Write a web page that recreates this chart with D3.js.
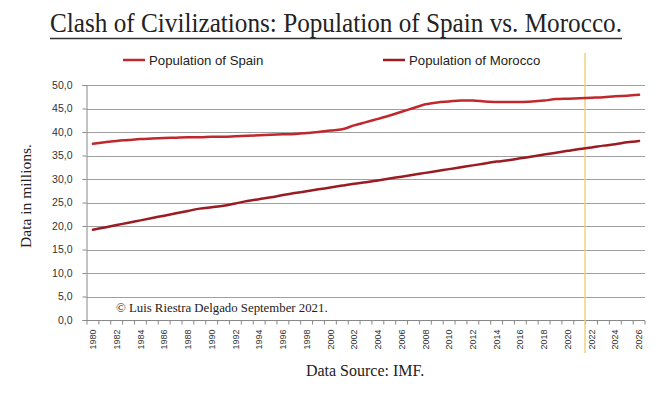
<!DOCTYPE html>
<html><head><meta charset="utf-8">
<script src="https://cdn.jsdelivr.net/npm/d3@7"></script>
<style>body{margin:0;background:#fff}svg{display:block}</style>
</head><body><svg id="c" width="672" height="394"></svg>
<script>
const years = d3.range(1980, 2027);
const spain = [37.5,37.8,38.1,38.3,38.5,38.6,38.7,38.8,38.9,38.9,39.0,39.0,39.1,39.2,39.3,39.4,39.5,39.6,39.8,40.0,40.3,40.6,41.4,42.1,42.8,43.5,44.3,45.1,45.9,46.3,46.5,46.7,46.7,46.5,46.4,46.4,46.4,46.5,46.7,47.0,47.1,47.2,47.3,47.4,47.6,47.7,47.9];
const morocco = [19.2,19.7,20.2,20.7,21.2,21.7,22.2,22.7,23.2,23.7,24.0,24.3,24.8,25.3,25.7,26.1,26.6,27.0,27.4,27.8,28.2,28.6,29.0,29.3,29.7,30.1,30.5,30.9,31.3,31.7,32.1,32.5,32.9,33.3,33.7,34.0,34.4,34.8,35.2,35.6,36.0,36.4,36.7,37.1,37.4,37.8,38.1];
const yTicks = [0,5,10,15,20,25,30,35,40,45,50];
const xTickYears = years.filter(y => y % 2 === 0);
const markerYear = 2021.45;
const seriesNames = ["Population of Spain", "Population of Morocco"];
const seriesColors = ["#c0282d", "#9a1c22"];

const svg = d3.select("#c");
const x = d3.scaleLinear().domain([1979.5, 2026.5]).range([87, 645]);
const y = d3.scaleLinear().domain([0, 50]).range([320, 85]);
const fmt = v => d3.format(".1f")(v).replace(".", ",");

// Title
svg.append("text").attr("x", 336).attr("y", 32).attr("text-anchor", "middle")
  .attr("font-family", "Liberation Serif, serif").attr("font-size", 27).attr("fill", "#222")
  .attr("textLength", 572).attr("lengthAdjust", "spacingAndGlyphs")
  .text("Clash of Civilizations: Population of Spain vs. Morocco.");
svg.append("line").attr("x1", 50).attr("x2", 622).attr("y1", 38.5).attr("y2", 38.5)
  .attr("stroke", "#333").attr("stroke-width", 1.3);

// Legend
const legendX = [123, 383];
seriesNames.forEach((n, i) => {
  svg.append("line").attr("x1", legendX[i]).attr("x2", legendX[i] + 22).attr("y1", 60).attr("y2", 60)
    .attr("stroke", seriesColors[i]).attr("stroke-width", 2.5);
  svg.append("text").attr("x", legendX[i] + 26).attr("y", 64.5)
    .attr("font-family", "Liberation Sans, Arial, sans-serif").attr("font-size", 13.2).attr("fill", "#222")
    .text(n);
});

// Gridlines
svg.append("g").selectAll("line").data(yTicks.filter(t => t > 0)).join("line")
  .attr("x1", 87).attr("x2", 645).attr("y1", d => Math.round(y(d)) + 0.5).attr("y2", d => Math.round(y(d)) + 0.5)
  .attr("stroke", "#a0a0a0").attr("stroke-width", 1);

// Y axis
const yAxis = svg.append("g").attr("transform", "translate(86.5,0)")
  .call(d3.axisLeft(y).tickValues(yTicks).tickFormat(fmt).tickSize(4).tickPadding(10));
yAxis.select(".domain").attr("stroke", "#888");
yAxis.selectAll(".tick line").attr("stroke", "#888");
yAxis.selectAll("text").attr("font-family", "Liberation Sans, Arial, sans-serif").attr("font-size", 10.5).attr("fill", "#333");

// X axis
const xAxis = svg.append("g").attr("transform", "translate(0,320.5)");
xAxis.append("line").attr("x1", 87).attr("x2", 645).attr("stroke", "#888");
xAxis.selectAll("line.tk").data(d3.range(1979.5, 2027, 1)).join("line").attr("class", "tk")
  .attr("x1", d => x(d)).attr("x2", d => x(d)).attr("y1", 0).attr("y2", 4).attr("stroke", "#888");
xAxis.selectAll("text").data(xTickYears).join("text")
  .attr("transform", d => `translate(${x(d)},9) rotate(-90)`)
  .attr("text-anchor", "end").attr("dy", "0.35em")
  .attr("font-family", "Liberation Sans, Arial, sans-serif").attr("font-size", 9).attr("fill", "#333")
  .text(d => d);

// Marker line
svg.append("line").attr("x1", x(markerYear)).attr("x2", x(markerYear)).attr("y1", 53).attr("y2", 353)
  .attr("stroke", "#f0d27a").attr("stroke-width", 1.5);

// Series lines
const line = d3.line().x((d, i) => x(years[i])).y(d => y(d)).curve(d3.curveMonotoneX);
[spain, morocco].forEach((s, i) => {
  svg.append("path").datum(s).attr("d", line).attr("fill", "none")
    .attr("stroke", seriesColors[i]).attr("stroke-width", 2.5).attr("stroke-linecap", "round");
});

// Annotations
svg.append("text").attr("x", 116).attr("y", 312)
  .attr("font-family", "Liberation Serif, serif").attr("font-size", 12.8).attr("fill", "#222")
  .text("© Luis Riestra Delgado September 2021.");
svg.append("text").attr("x", 365).attr("y", 376).attr("text-anchor", "middle")
  .attr("font-family", "Liberation Serif, serif").attr("font-size", 16).attr("fill", "#222")
  .text("Data Source: IMF.");
svg.append("text").attr("transform", "translate(31,196) rotate(-90)").attr("text-anchor", "middle")
  .attr("font-family", "Liberation Serif, serif").attr("font-size", 15.5).attr("fill", "#222")
  .text("Data in millions.");
</script></body></html>
